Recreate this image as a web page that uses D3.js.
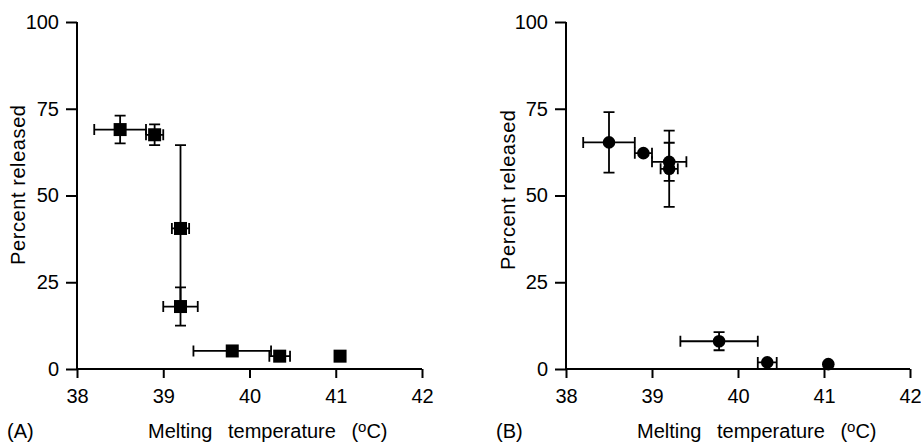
<!DOCTYPE html>
<html><head><meta charset="utf-8">
<script src="https://cdn.jsdelivr.net/npm/d3@7"></script>
<style>
body{margin:0;background:#fff;}
svg text{font-family:"Liberation Sans",Arial,sans-serif;fill:#000;}
</style></head>
<body><svg id="c" width="921" height="443"></svg>
<script>
const xTicks = [38, 39, 40, 41, 42];
const yTicks = [0, 25, 50, 75, 100];
const xLabel = "Melting temperature (";
const yLabel = "Percent released";

// Panel A (squares)
const tempA     = [38.5, 38.9, 39.2, 39.2, 39.8, 40.35, 41.05];
const tempErrA  = [0.3, 0.1, 0.1, 0.2, 0.45, 0.12, 0];
const relA      = [69, 67.5, 40.5, 18, 5.2, 3.7, 3.7];
const relErrA   = [4, 3, 24, 5.5, 0, 0, 0];

// Panel B (circles)
const tempB     = [38.5, 38.9, 39.2, 39.2, 39.78, 40.34, 41.05];
const tempErrB  = [0.3, 0.1, 0.2, 0.1, 0.45, 0.11, 0];
const relB      = [65.3, 62.2, 59.7, 57.7, 8.0, 1.9, 1.4];
const relErrB   = [8.7, 0, 5.5, 11, 2.6, 0, 0];

const svg = d3.select("#c");
const FS = 20;

function panel(opt){
  const x = d3.scaleLinear().domain([38,42]).range([opt.x0, opt.x1]);
  const y = d3.scaleLinear().domain([0,100]).range([369, 22]);
  const g = svg.append("g");

  const ax = g.append("g").attr("transform","translate(0,369)")
    .call(d3.axisBottom(x).tickValues(xTicks).tickSize(9).tickPadding(11).tickFormat(d3.format("d")));
  const ay = g.append("g").attr("transform",`translate(${opt.x0},0)`)
    .call(d3.axisLeft(y).tickValues(yTicks).tickSize(11).tickPadding(7).tickFormat(d3.format("d")));
  [ax, ay].forEach(a=>{
    a.select(".domain").attr("stroke","#000").attr("stroke-width",2);
    a.selectAll(".tick line").attr("stroke","#000").attr("stroke-width",2);
    a.selectAll(".tick text").attr("font-size",FS).attr("fill","#000")
      .style("font-family","'Liberation Sans',Arial,sans-serif");
  });
  ax.select(".domain").attr("d",`M${opt.x0},0H${opt.x1}`);
  ay.select(".domain").attr("d",`M0,${y(0)}V${y(100)}`);

  const cap = 5.5;
  const eb = g.append("g").attr("stroke","#000").attr("stroke-width",1.8).attr("fill","none");
  opt.t.forEach((t,i)=>{
    const cx = x(t), cy = y(opt.r[i]);
    const ex = opt.te[i], ey = opt.re[i];
    if (ex > 0){
      const xl = x(t-ex), xr = x(t+ex);
      eb.append("path").attr("d",`M${xl},${cy}H${xr}M${xl},${cy-cap}V${cy+cap}M${xr},${cy-cap}V${cy+cap}`);
    }
    if (ey > 0){
      const yt = y(opt.r[i]+ey), yb = y(opt.r[i]-ey);
      eb.append("path").attr("d",`M${cx},${yt}V${yb}M${cx-cap},${yt}H${cx+cap}M${cx-cap},${yb}H${cx+cap}`);
    }
  });
  const m = g.append("g").attr("fill","#000");
  opt.t.forEach((t,i)=>{
    if (opt.shape === "square"){
      m.append("rect").attr("x",x(t)-6.5).attr("y",y(opt.r[i])-6.5).attr("width",13).attr("height",13);
    } else {
      m.append("circle").attr("cx",x(t)).attr("cy",y(opt.r[i])).attr("r",6.3);
    }
  });

  // y label
  g.append("text").attr("transform",`translate(${opt.ylx},${opt.yly}) rotate(-90)`)
    .attr("text-anchor","middle").attr("font-size",FS)
    .attr("textLength",160).attr("lengthAdjust","spacing").text(yLabel);
  // x label
  const xl = g.append("text").attr("x",opt.xlx).attr("y",438).attr("font-size",FS)
    .attr("word-spacing",10);
  xl.append("tspan").text(xLabel);
  xl.append("tspan").attr("font-size",15).attr("dy",-6).text("o");
  xl.append("tspan").attr("dy",6).text("C)");
  g.append("text").attr("x",opt.px).attr("y",438).attr("font-size",FS).text(opt.panel);
}

panel({x0:77, x1:422, t:tempA, te:tempErrA, r:relA, re:relErrA, shape:"square",
       ylx:25, yly:185, xlx:148, px:7, panel:"(A)"});
panel({x0:566, x1:910, t:tempB, te:tempErrB, r:relB, re:relErrB, shape:"circle",
       ylx:515, yly:190, xlx:637, px:496, panel:"(B)"});
</script></body></html>
